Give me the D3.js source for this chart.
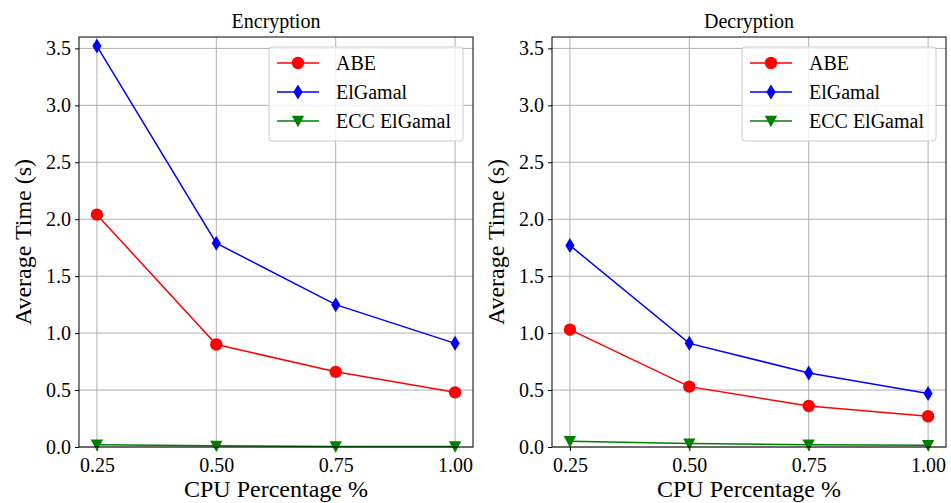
<!DOCTYPE html>
<html>
<head>
<meta charset="utf-8">
<style>
  body { margin: 0; background: #fff; }
  svg text { font-family: "Liberation Serif", "DejaVu Serif", serif; fill: #000; }
</style>
</head>
<body>
<script src="https://d3js.org/d3.v7.min.js"></script>
<script>
// data
const cpu = [0.25, 0.50, 0.75, 1.00];
const yTicks = [0, 0.5, 1.0, 1.5, 2.0, 2.5, 3.0, 3.5];
const seriesNames = ["ABE", "ElGamal", "ECC ElGamal"];
const seriesColors = ["#ff0000", "#0000ff", "#008000"];
const seriesMarkers = ["circle", "diamond", "triangle"];

const encABE = [2.04, 0.90, 0.66, 0.48];
const encElGamal = [3.52, 1.79, 1.25, 0.91];
const encECC = [0.02, 0.01, 0.005, 0.005];

const decABE = [1.03, 0.53, 0.36, 0.27];
const decElGamal = [1.77, 0.91, 0.65, 0.47];
const decECC = [0.05, 0.03, 0.02, 0.015];

const panels = [
  { title: "Encryption", left: 79, series: [encABE, encElGamal, encECC] },
  { title: "Decryption", left: 552, series: [decABE, decElGamal, decECC] }
];

const W = 951, H = 503;
const axTop = 37, axH = 410, axW = 394;
const serif = '"Liberation Serif", "DejaVu Serif", serif';

const svg = d3.select("body").append("svg")
  .attr("width", W).attr("height", H);

function marker(g, type, x, y, color) {
  if (type == "circle") {
    g.append("circle").attr("cx", x).attr("cy", y).attr("r", 6.2).attr("fill", color);
  } else if (type == "diamond") {
    g.append("path")
      .attr("d", `M${x},${y - 7.5}L${x + 4.6},${y}L${x},${y + 7.5}L${x - 4.6},${y}Z`)
      .attr("fill", color);
  } else {
    g.append("path")
      .attr("d", `M${x - 6.2},${y - 5.2}L${x + 6.2},${y - 5.2}L${x},${y + 6.2}Z`)
      .attr("fill", color);
  }
}

panels.forEach(p => {
  const x = d3.scaleLinear().domain([0.2125, 1.0375]).range([p.left, p.left + axW]);
  const y = d3.scaleLinear().domain([0, 3.6]).range([axTop + axH, axTop]);
  const g = svg.append("g");

  // grid
  g.selectAll(".gx").data(cpu).enter().append("line")
    .attr("x1", d => x(d)).attr("x2", d => x(d))
    .attr("y1", axTop).attr("y2", axTop + axH)
    .attr("stroke", "#b0b0b0").attr("stroke-width", 1);
  g.selectAll(".gy").data(yTicks).enter().append("line")
    .attr("x1", p.left).attr("x2", p.left + axW)
    .attr("y1", d => y(d)).attr("y2", d => y(d))
    .attr("stroke", "#b0b0b0").attr("stroke-width", 1);

  // axes
  const xa = g.append("g").attr("transform", `translate(0,${axTop + axH})`)
    .call(d3.axisBottom(x).tickValues(cpu).tickFormat(d3.format(".2f")).tickSizeOuter(0).tickSize(4).tickPadding(4));
  const ya = g.append("g").attr("transform", `translate(${p.left},0)`)
    .call(d3.axisLeft(y).tickValues(yTicks).tickFormat(d3.format(".1f")).tickSizeOuter(0).tickSize(4).tickPadding(4));
  [xa, ya].forEach(a => {
    a.attr("font-family", serif).attr("font-size", null);
    a.select(".domain").remove();
    a.selectAll("text").style("font-family", serif).style("font-size", "20px").attr("fill", "#000");
    a.selectAll("line").attr("stroke", "#000");
  });
  xa.selectAll("text").attr("dy", "0.85em");

  // lines + markers
  p.series.forEach((vals, i) => {
    const pts = cpu.map((c, j) => [x(c), y(vals[j])]);
    g.append("path").attr("d", d3.line()(pts))
      .attr("fill", "none").attr("stroke", seriesColors[i]).attr("stroke-width", 1.5);
    pts.forEach(pt => marker(g, seriesMarkers[i], pt[0], pt[1], seriesColors[i]));
  });

  // frame
  g.append("rect").attr("x", p.left).attr("y", axTop).attr("width", axW).attr("height", axH)
    .attr("fill", "none").attr("stroke", "#000").attr("stroke-width", 1);

  // title and labels
  g.append("text").attr("x", p.left + axW / 2).attr("y", 28)
    .attr("text-anchor", "middle").style("font-size", "20px").text(p.title);
  g.append("text").attr("x", p.left + axW / 2).attr("y", 497)
    .attr("text-anchor", "middle").style("font-size", "24px").text("CPU Percentage %");
  g.append("text")
    .attr("transform", `translate(${p.left - 48},${axTop + axH / 2}) rotate(-90)`)
    .attr("text-anchor", "middle").style("font-size", "24px").text("Average Time (s)");

  // legend
  const lx = p.left + axW - 204, ly = 47;
  const lg = g.append("g");
  lg.append("rect").attr("x", lx).attr("y", ly).attr("width", 194).attr("height", 94)
    .attr("rx", 3).attr("fill", "#fff").attr("fill-opacity", 0.8)
    .attr("stroke", "#cccccc").attr("stroke-width", 1);
  seriesNames.forEach((name, i) => {
    const yy = ly + 16 + i * 29;
    lg.append("line").attr("x1", lx + 8).attr("x2", lx + 50)
      .attr("y1", yy).attr("y2", yy)
      .attr("stroke", seriesColors[i]).attr("stroke-width", 1.5);
    marker(lg, seriesMarkers[i], lx + 29, yy, seriesColors[i]);
    lg.append("text").attr("x", lx + 67).attr("y", yy + 7)
      .style("font-size", "20px").text(name);
  });
});
</script>
</body>
</html>
